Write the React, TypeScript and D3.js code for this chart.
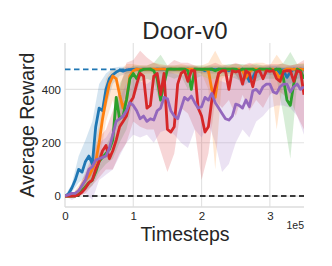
import React, { useEffect, useRef } from 'react';
import * as d3 from 'd3';

// timesteps for the mean curves (every 5k) and for the shaded bands (every 10k)
const steps = d3.range(0, 350001, 5000);
const bandSteps = d3.range(0, 350001, 10000);

const yTicks = [0, 200, 400];
const xTicks = [0, 100000, 200000, 300000];
const xTickLabels = ['0', '1', '2', '3'];

const demoLevel = 475;
const zeroLevel = 0;

// mean reward, one value per 5k steps
const blueMean = [
  0, 8, 30, 60, 100, 90, 130, 150, 120, 260, 330, 320, 400, 440, 455, 465, 472, 468, 473, 474,
  475, 476, 475, 476, 475, 476, 474, 476, 475, 476, 475, 476, 474, 475, 476, 475, 476, 474, 476, 475,
  476, 470, 475, 476, 474, 476, 475, 476, 470, 476, 475, 472, 476, 460, 430, 445, 470, 476, 475, 470,
  476, 474, 476, 460, 470, 445, 465, 476, 470, 476, 472,
];
const orangeMean = [
  0, 0, 0, 5, 15, 40, 60, 75, 100, 130, 200, 290, 360, 420, 450, 440, 380, 330, 360, 450,
  470, 476, 474, 476, 475, 476, 476, 475, 476, 476, 474, 476, 476, 475, 476, 476, 475, 476, 476, 475,
  476, 476, 470, 400, 370, 460, 476, 475, 476, 476, 475, 476, 470, 445, 465, 476, 476, 475, 476, 470,
  476, 476, 460, 440, 470, 476, 476, 475, 476, 476, 474,
];
const greenMean = [
  0, 0, 0, 0, 5, 20, 35, 50, 60, 90, 130, 145, 160, 175, 210, 370, 290, 300, 360, 440,
  460, 440, 470, 475, 476, 476, 470, 440, 360, 420, 476, 476, 476, 476, 476, 476, 470, 400, 476, 476,
  475, 476, 476, 476, 470, 476, 476, 476, 476, 476, 476, 470, 476, 476, 476, 476, 470, 476, 476, 476,
  476, 470, 476, 476, 440, 360, 340, 420, 476, 470, 440,
];
const redMean = [
  0, 0, 0, 0, 5, 15, 30, 50, 60, 100, 130, 170, 190, 140, 170, 210, 260, 280, 300, 350,
  370, 420, 460, 450, 330, 340, 450, 460, 380, 460, 250, 240, 260, 420, 460, 470, 430, 470, 470, 330,
  300, 240, 260, 360, 410, 460, 470, 470, 400, 470, 465, 470, 420, 470, 460, 410, 465, 470, 440, 470,
  468, 470, 440, 430, 468, 470, 470, 430, 470, 465, 380,
];
const purpleMean = [
  0, 5, 10, 10, 20, 40, 60, 100, 110, 135, 140, 145, 150, 180, 230, 280, 290, 300, 320, 350,
  340, 320, 290, 300, 280, 290, 285, 320, 330, 370, 365, 320, 300, 290, 330, 370, 360, 375, 350, 330,
  335, 370, 360, 385, 350, 330, 310, 290, 285, 300, 345, 340, 330, 360, 335, 395, 400, 385, 410, 420,
  420, 390, 385, 410, 420, 420, 390, 410, 420, 400, 410,
];

// band bounds, one value per 10k steps
const blueLo = [0, 15, 50, 70, 90, 230, 330, 420, 450, 460, 465, 465, 465, 465, 465, 465, 465, 465, 465, 465, 460, 460, 460, 460, 460, 455, 410, 430, 440, 455, 455, 450, 430, 420, 440, 445];
const blueHi = [0, 45, 150, 210, 280, 420, 460, 480, 485, 485, 485, 485, 485, 485, 485, 485, 485, 485, 485, 485, 485, 485, 485, 485, 485, 485, 485, 485, 485, 485, 485, 485, 485, 485, 485, 485];
const orangeLo = [0, 0, 5, 30, 60, 120, 280, 360, 250, 420, 460, 455, 460, 460, 460, 460, 460, 460, 460, 460, 460, 400, 100, 440, 460, 455, 420, 460, 460, 460, 460, 250, 440, 460, 460, 460];
const orangeHi = [0, 5, 40, 80, 140, 270, 440, 480, 470, 495, 495, 490, 490, 500, 495, 490, 490, 495, 490, 490, 490, 500, 545, 495, 490, 495, 490, 495, 500, 500, 490, 530, 495, 490, 495, 500];
const greenLo = [0, 0, 0, 20, 40, 90, 120, 140, 200, 250, 360, 430, 440, 430, 340, 450, 440, 450, 400, 440, 450, 440, 440, 450, 450, 440, 430, 440, 430, 440, 440, 440, 300, 140, 420, 400];
const greenHi = [0, 5, 20, 70, 100, 160, 190, 240, 420, 470, 490, 490, 490, 500, 530, 490, 490, 490, 490, 490, 490, 490, 490, 490, 495, 495, 495, 490, 495, 490, 490, 490, 500, 540, 495, 495];
const redLo = [0, 0, 0, 10, 40, 70, 100, 100, 160, 200, 280, 260, 250, 250, 170, 90, 160, 330, 310, 250, 60, 160, 360, 330, 360, 300, 380, 320, 360, 330, 380, 400, 380, 360, 300, 250];
const redHi = [0, 5, 30, 90, 150, 220, 250, 320, 400, 500, 510, 545, 520, 500, 490, 490, 510, 500, 500, 490, 480, 490, 500, 490, 490, 500, 490, 500, 490, 490, 495, 495, 495, 490, 495, 510];
const purpleLo = [0, -15, 0, 10, -15, 60, 80, 100, 150, 200, 230, 220, 230, 200, 240, 250, 230, 200, 180, 250, 220, 270, 200, 90, 120, 200, 250, 220, 280, 300, 330, 340, 340, 330, 300, 230];
const purpleHi = [0, 5, 30, 80, 130, 200, 220, 260, 370, 420, 450, 430, 420, 440, 480, 470, 460, 450, 460, 470, 450, 440, 440, 430, 420, 460, 470, 470, 480, 480, 490, 490, 480, 490, 490, 490];

const series = [
  { color: '#1f77b4', mean: blueMean, lo: blueLo, hi: blueHi },
  { color: '#ff7f0e', mean: orangeMean, lo: orangeLo, hi: orangeHi },
  { color: '#2ca02c', mean: greenMean, lo: greenLo, hi: greenHi },
  { color: '#d62728', mean: redMean, lo: redLo, hi: redHi },
  { color: '#9467bd', mean: purpleMean, lo: purpleLo, hi: purpleHi },
];

const W = 332;
const H = 266;
const FONT = "'Liberation Sans', Arial, sans-serif";

const App: React.FC = () => {
  const svgRef = useRef<SVGSVGElement>(null);

  useEffect(() => {
    if (!svgRef.current) return;
    const svg = d3.select(svgRef.current);
    svg.selectAll('*').remove();

    const left = 65, right = 304, top = 43, bottom = 207;
    const x = d3.scaleLinear().domain([0, 350000]).range([left, right]);
    const y = d3.scaleLinear().domain([-41, 574]).range([bottom, top]);

    svg.append('rect').attr('width', W).attr('height', H).attr('fill', '#fff');

    // grid
    const grid = svg.append('g');
    grid
      .selectAll('.hgrid')
      .data(yTicks)
      .enter()
      .append('line')
      .attr('x1', left)
      .attr('x2', right)
      .attr('y1', (d) => y(d))
      .attr('y2', (d) => y(d))
      .style('stroke', '#e3e3e3')
      .style('stroke-width', 1.2);
    grid
      .selectAll('.vgrid')
      .data(xTicks.slice(1))
      .enter()
      .append('line')
      .attr('x1', (d) => x(d))
      .attr('x2', (d) => x(d))
      .attr('y1', top)
      .attr('y2', bottom)
      .style('stroke', '#e3e3e3')
      .style('stroke-width', 1.2);

    // spines (left + bottom only)
    svg.append('line').attr('x1', left).attr('x2', left).attr('y1', top).attr('y2', bottom)
      .style('stroke', '#dcdcdc').style('stroke-width', 1.3);
    svg.append('line').attr('x1', left).attr('x2', right).attr('y1', bottom).attr('y2', bottom)
      .style('stroke', '#dcdcdc').style('stroke-width', 1.3);

    svg.append('defs').append('clipPath').attr('id', 'plotclip')
      .append('rect').attr('x', left).attr('y', top).attr('width', right - left).attr('height', bottom - top);

    const plot = svg.append('g').attr('clip-path', 'url(#plotclip)');

    // shaded bands
    series.forEach((s) => {
      const area = d3
        .area<number>()
        .x((_, i) => x(bandSteps[i]))
        .y0((_, i) => y(s.lo[i]))
        .y1((_, i) => y(s.hi[i]));
      plot.append('path').datum(s.lo).attr('d', area).style('fill', s.color).style('opacity', 0.19);
    });

    // reference levels
    plot.append('line').attr('x1', left).attr('x2', right)
      .attr('y1', y(demoLevel)).attr('y2', y(demoLevel))
      .style('stroke', '#1f77b4').style('stroke-width', 1.6).style('stroke-dasharray', '5.5,3.5');
    plot.append('line').attr('x1', left).attr('x2', right)
      .attr('y1', y(zeroLevel)).attr('y2', y(zeroLevel))
      .style('stroke', '#000').style('stroke-width', 1.6).style('stroke-dasharray', '5.5,3.5');

    // mean curves
    series.forEach((s) => {
      const line = d3
        .line<number>()
        .x((_, i) => x(steps[i]))
        .y((d) => y(d));
      plot.append('path').datum(s.mean).attr('d', line)
        .style('fill', 'none').style('stroke', s.color).style('stroke-width', 2.8)
        .style('stroke-linejoin', 'round');
    });

    // axes
    const xAxis = svg.append('g').attr('transform', `translate(0,${bottom})`)
      .call(d3.axisBottom(x).tickValues(xTicks).tickSize(0).tickPadding(5)
        .tickFormat((_, i) => xTickLabels[i]));
    const yAxis = svg.append('g').attr('transform', `translate(${left},0)`)
      .call(d3.axisLeft(y).tickValues(yTicks).tickSize(0).tickPadding(4));
    [xAxis, yAxis].forEach((a) => {
      a.select('.domain').remove();
      a.selectAll('text').style('font-family', FONT).style('font-size', '11.5px').style('fill', '#262626');
    });

    svg.append('text').attr('x', 185).attr('y', 39).attr('text-anchor', 'middle')
      .style('font-family', FONT).style('font-size', '24px').style('fill', '#262626').text('Door-v0');
    svg.append('text').attr('x', 185).attr('y', 241).attr('text-anchor', 'middle')
      .style('font-family', FONT).style('font-size', '19.5px').style('fill', '#262626').text('Timesteps');
    svg.append('text').attr('x', 304).attr('y', 229).attr('text-anchor', 'end')
      .style('font-family', FONT).style('font-size', '10.5px').style('fill', '#262626').text('1e5');
    svg.append('text').attr('transform', 'translate(34,125) rotate(-90)').attr('text-anchor', 'middle')
      .style('font-family', FONT).style('font-size', '19.5px').style('fill', '#262626').text('Average Reward');
  }, []);

  return (
    <div style={{ position: 'absolute', left: 0, top: 0 }}>
      <svg ref={svgRef} width={W} height={H} style={{ display: 'block' }} />
    </div>
  );
};

export default App;
